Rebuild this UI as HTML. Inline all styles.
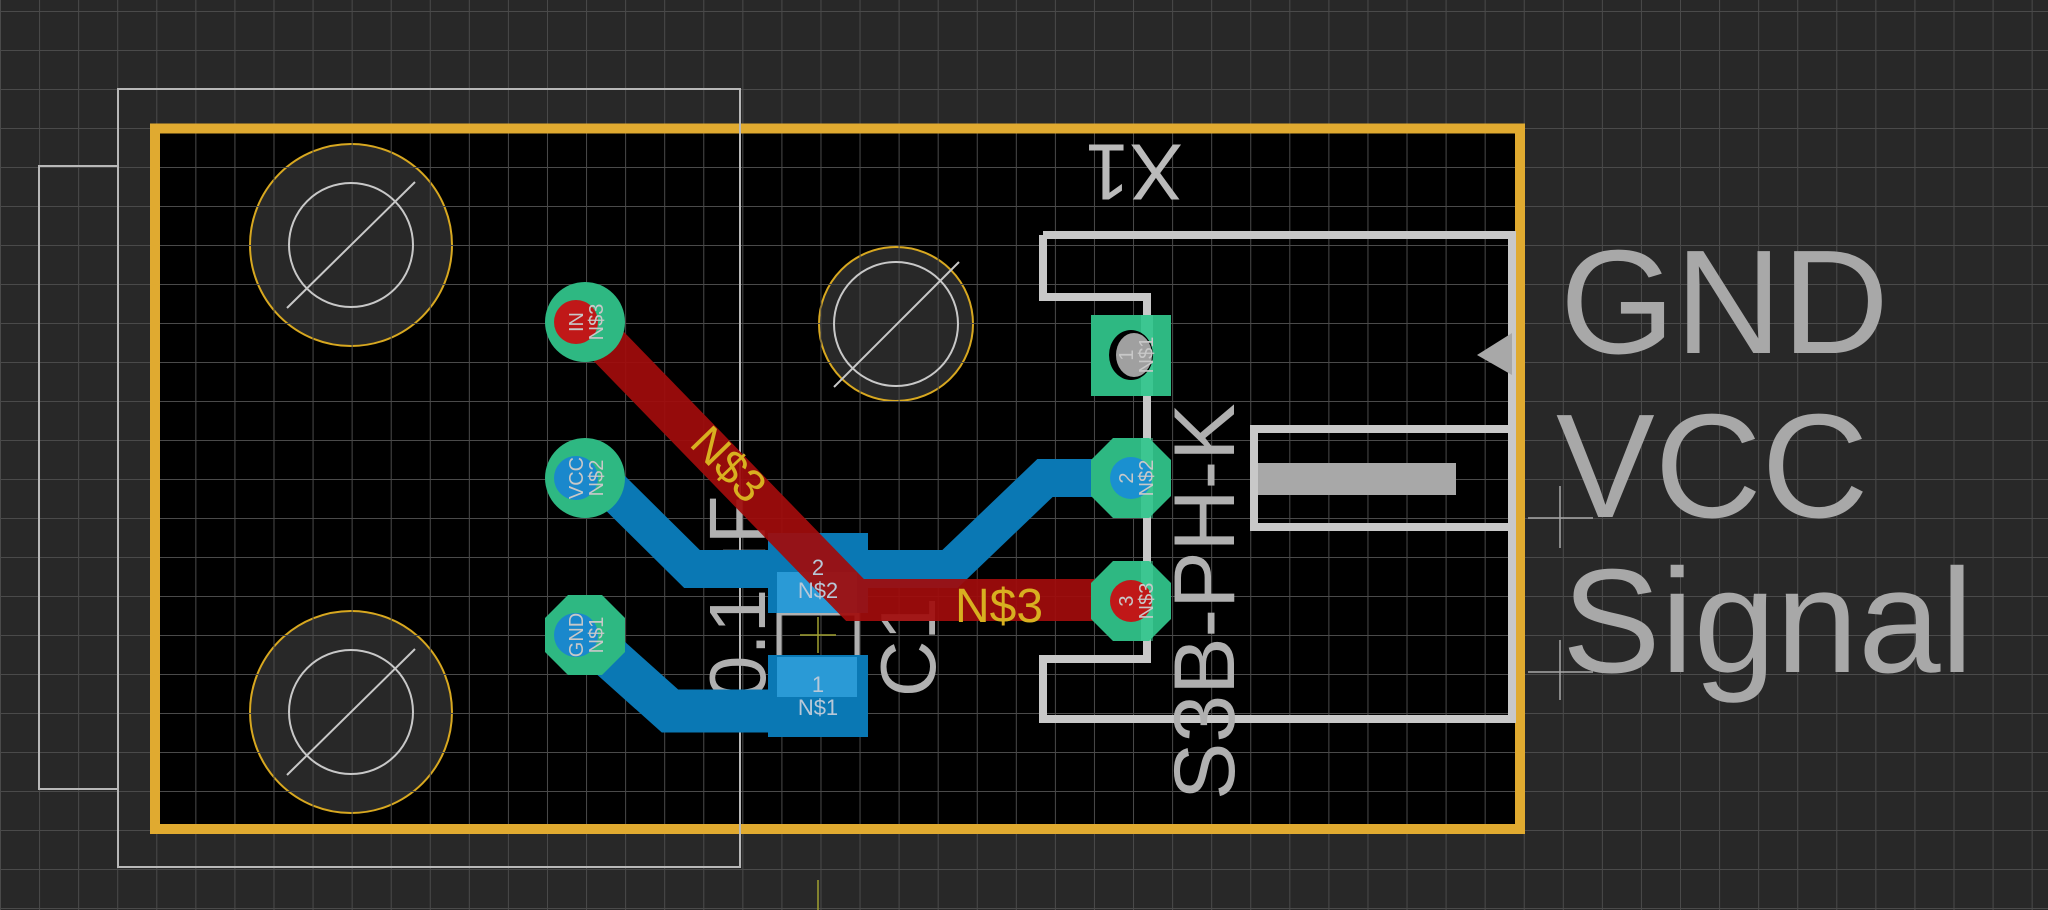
<!DOCTYPE html>
<html><head><meta charset="utf-8"><style>
html,body{margin:0;padding:0;background:#282828;}
svg{display:block;}
text{font-family:"Liberation Sans",sans-serif;}
</style></head><body>
<svg width="2048" height="910" viewBox="0 0 2048 910" xmlns="http://www.w3.org/2000/svg">
<defs>
<pattern id="g" patternUnits="userSpaceOnUse" x="0" y="11" width="39.07" height="39">
<path d="M0 0H39.07M0 0V39" stroke="#4a4a4a" stroke-width="2" fill="none"/>
</pattern>
</defs>
<rect width="2048" height="910" fill="#282828"/>
<rect x="155" y="128" width="1365" height="701" fill="#000"/>
<g fill="#282828" stroke="#d8a820" stroke-width="2">
<circle cx="351" cy="245" r="101"/>
<circle cx="351" cy="712" r="101"/>
<circle cx="896" cy="324" r="77"/>
</g>
<rect width="2048" height="910" fill="url(#g)"/>
<g fill="none" stroke="#c8c8c8" stroke-width="2">
<circle cx="351" cy="245" r="62"/>
<circle cx="351" cy="712" r="62"/>
<circle cx="896" cy="324" r="62"/>
<line x1="415" y1="182" x2="287" y2="308"/>
<line x1="415" y1="649" x2="287" y2="775"/>
<line x1="959" y1="262" x2="834" y2="387"/>
</g>
<rect x="155" y="128.5" width="1365" height="700.5" fill="none" stroke="#e0aa30" stroke-width="10"/>
<g fill="none" stroke="#b8b8b8" stroke-width="2">
<rect x="118" y="89" width="622" height="778"/>
<polyline points="118,166 39,166 39,789 118,789"/>
</g>
<g fill="#b0b0b0">
<text transform="translate(765,700) rotate(-90)" font-size="80">0.1uF</text>
<text transform="translate(935,697) rotate(-90)" font-size="78">C1</text>
</g>
<rect x="779" y="613" width="78" height="50" fill="none" stroke="#b0b0b0" stroke-width="5"/>
<g fill="none" stroke="#c8c8c8" stroke-width="8">
<polyline points="1043,235 1512,235 1512,719 1043,719 1043,659 1147,659 1147,297 1043,297 1043,235"/>
<rect x="1254" y="429" width="258" height="98"/>
</g>
<rect x="1258" y="463" width="198" height="32" fill="#a8a8a8"/>
<polygon points="1477,355 1512,333 1512,375" fill="#a8a8a8"/>
<text transform="translate(1134,172) rotate(180)" font-size="80" fill="#bbb" text-anchor="middle" dominant-baseline="central">X1</text>
<text transform="translate(1234,800) rotate(-90)" font-size="86" fill="#b0b0b0">S3B-PH-K</text>
<g fill="none" stroke-linejoin="miter" stroke-linecap="butt">
<path d="M585,635 L670,711 L818,711" stroke="#0a78b4" stroke-width="43"/>
<path d="M585,478 L600,478 L692,569 L950,569 L1045,478 L1131,478" stroke="#0a78b4" stroke-width="38"/>
</g>
<rect x="768" y="533" width="100" height="80" fill="#0a78b4"/>
<rect x="768" y="655" width="100" height="82" fill="#0a78b4"/>
<rect x="777" y="572" width="80" height="41" fill="#2a9ad6"/>
<rect x="777" y="657" width="80" height="40" fill="#2a9ad6"/>
<path d="M585,322 L855,600 L1131,600" fill="none" stroke="#a00c0c" stroke-width="42" stroke-opacity="0.93"/>
<g font-size="22" text-anchor="middle" fill="#b8c8d8">
<text x="818" y="575">2</text>
<text x="818" y="598">N$2</text>
<text x="818" y="692">1</text>
<text x="818" y="715">N$1</text>
</g>
<text transform="translate(729,464) rotate(46)" font-size="46" fill="#d8b020" text-anchor="middle" dominant-baseline="central">N$3</text>
<text x="955" y="622" font-size="48" fill="#d8b020">N$3</text>
<g fill="#2eb882">
<circle cx="585" cy="322" r="40"/>
<circle cx="585" cy="478" r="40"/>
<polygon points="568,595 602,595 625,618 625,652 602,675 568,675 545,652 545,618"/>
</g>
<circle cx="576" cy="322" r="22" fill="#c01818"/>
<circle cx="576" cy="478" r="22" fill="#1a88cc"/>
<circle cx="576" cy="635" r="22" fill="#1a88cc"/>
<g fill="#c8c8c8" font-size="20" text-anchor="middle">
<text transform="translate(583,322) rotate(-90)">IN</text>
<text transform="translate(603,322) rotate(-90)">N$3</text>
<text transform="translate(583,478) rotate(-90)">VCC</text>
<text transform="translate(603,478) rotate(-90)">N$2</text>
<text transform="translate(583,635) rotate(-90)">GND</text>
<text transform="translate(603,635) rotate(-90)">N$1</text>
</g>
<rect x="1091" y="315" width="80" height="81" fill="#2eb882"/>
<polygon points="1113,438 1149,438 1171,460 1171,496 1149,518 1113,518 1091,496 1091,460" fill="#2eb882"/>
<polygon points="1113,561 1149,561 1171,583 1171,619 1149,641 1113,641 1091,619 1091,583" fill="#2eb882"/>
<g fill="#4ad4a0" opacity="0.5">
<rect x="1141" y="315" width="12" height="81"/>
<rect x="1141" y="438" width="12" height="80"/>
<rect x="1141" y="561" width="12" height="80"/>
</g>
<ellipse cx="1131" cy="355" rx="22" ry="25" fill="#000"/>
<ellipse cx="1134" cy="355" rx="18" ry="22" fill="#a0a0a0"/>
<circle cx="1131" cy="478" r="21" fill="#1a90d0"/>
<circle cx="1131" cy="601" r="21" fill="#c01818"/>
<g fill="#c8c8c8" font-size="20" text-anchor="middle">
<text transform="translate(1133,355) rotate(-90)">1</text>
<text transform="translate(1153,355) rotate(-90)">N$1</text>
<text transform="translate(1133,478) rotate(-90)">2</text>
<text transform="translate(1153,478) rotate(-90)">N$2</text>
<text transform="translate(1133,601) rotate(-90)">3</text>
<text transform="translate(1153,601) rotate(-90)">N$3</text>
</g>
<g stroke="#a8a8a8" stroke-width="1.5">
<line x1="1528" y1="518" x2="1593" y2="518"/><line x1="1560" y1="486" x2="1560" y2="548"/>
<line x1="1528" y1="672" x2="1593" y2="672"/><line x1="1560" y1="640" x2="1560" y2="700"/>
</g>
<line x1="818" y1="880" x2="818" y2="910" stroke="#a0a030" stroke-width="1.5"/>
<line x1="800" y1="635" x2="836" y2="635" stroke="#a0a030" stroke-width="1.5"/>
<line x1="818" y1="617" x2="818" y2="653" stroke="#a0a030" stroke-width="1.5"/>
<g fill="#a8a8a8" font-size="148">
<text x="1560" y="353">GND</text>
<text x="1556" y="517">VCC</text>
<text x="1562" y="672">Signal</text>
</g>
</svg>
</body></html>
